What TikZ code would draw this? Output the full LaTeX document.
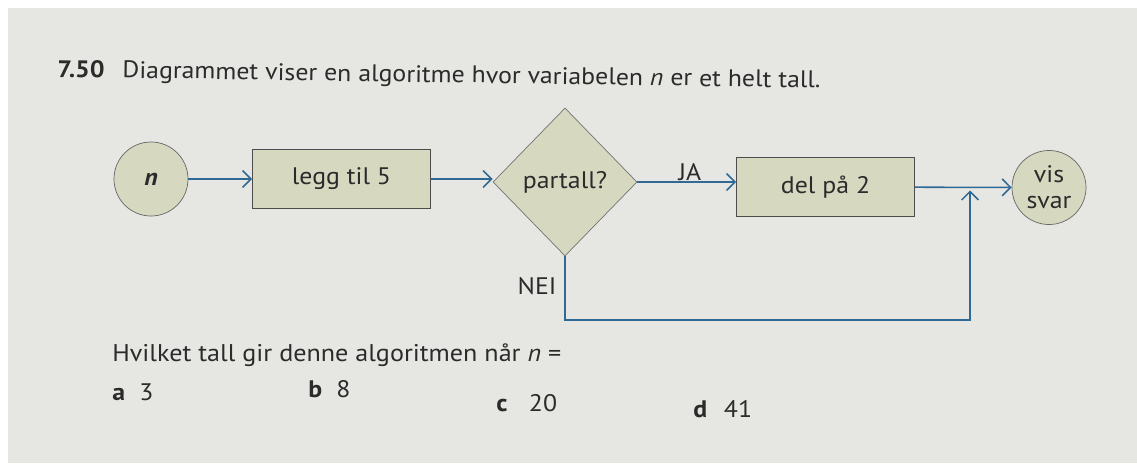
\documentclass[tikz,border=0pt]{standalone}
\usepackage{fontspec}
\setmainfont{PT Sans}[FakeStretch=1.08]
\usetikzlibrary{arrows.meta,shapes.geometric}
\definecolor{page}{HTML}{E6E6E3}
\definecolor{boxfill}{HTML}{D6D8BF}
\definecolor{flow}{HTML}{2E6A95}
\definecolor{ink}{HTML}{2B2B2B}
\begin{document}
\begin{tikzpicture}[x=0.025cm,y=-0.025cm,
  every node/.style={font=\fontsize{17}{20}\selectfont, text=ink},
  proc/.style={draw=black!70, line width=0.6pt, fill=boxfill, minimum width=4.45cm, minimum height=1.49cm, inner sep=0pt},
  term/.style={circle, draw=black!60, line width=0.5pt, fill=boxfill, minimum size=1.85cm, inner sep=0pt, align=center, font=\fontsize{17}{18.5}\selectfont},
  decision/.style={diamond, draw=black!55, line width=0.5pt, fill=boxfill, minimum width=3.6cm, minimum height=3.7cm, inner sep=0pt},
  flowline/.style={draw=flow, line width=1.1pt, -{Straight Barb[length=6pt,width=12pt,line width=1.1pt]}},
  lbl/.style={inner sep=0pt, anchor=base west},
]
\useasboundingbox (0,0) rectangle (1137,463);
\fill[white] (0,0) rectangle (1137,463);
\fill[page] (8,8) rectangle (1137,463);

% title
\node[lbl, rotate=-0.82] (title) at (57,77) {\textbf{7.50}\hspace{0.75em}Diagrammet viser en algoritme hvor variabelen \textit{n} er et helt tall.};

% flowchart
\node[term] (n) at (151,179) {\textbf{\textit{n}}};
\node[proc] (r1) at (341.5,179) {legg til 5};
\node[decision] (dia) at (565,182) {partall?};
\node[proc] (r2) at (825.5,187) {del på 2};
\node[term] (vis) at (1049,187.5) {vis\\svar};

\coordinate (c1) at (565,320);
\coordinate (c2) at (970,320);
\coordinate (j) at (970,190.5);

\draw[flowline] (n) -- (r1);
\draw[flowline] (r1.east) -- (r1.east -| dia.west);
\draw[flowline] (dia.east) -- (dia.east -| r2.west);
\draw[flowline] (r2) -- (vis);
\draw[flowline] (dia.south) -- (c1) -- (c2) -- (j);

\node[inner sep=0pt] (ja) at (690,172) {JA};
\node[inner sep=0pt] (nei) at (537,286) {NEI};

% question
\node[lbl, font=\fontsize{17.2}{20}\selectfont] (q) at (112,361) {Hvilket tall gir denne algoritmen når \textit{n} =};
\node[lbl] (a) at (112,400) {\textbf{a}\hspace{0.6em}3};
\node[lbl] (b) at (308,397) {\textbf{b}\hspace{0.6em}8};
\node[lbl] (c) at (496,411) {\textbf{c}\hspace{0.9em}20};
\node[lbl] (d) at (693,417) {\textbf{d}\hspace{0.7em}41};
\end{tikzpicture}
\end{document}
